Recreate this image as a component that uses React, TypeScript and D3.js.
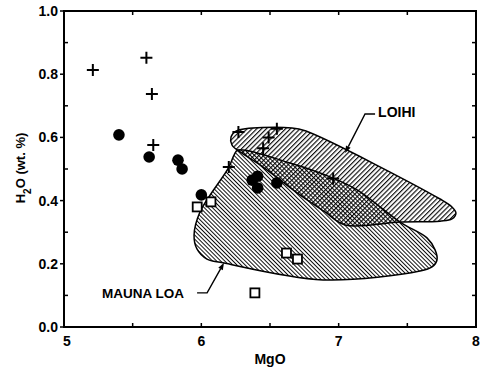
import React from "react";
import * as d3 from "d3";

// Sample compositions (MgO wt.%, H2O wt.%)
const crossX = [5.21, 5.6, 5.64, 5.65, 6.27, 6.49, 6.55, 6.45, 6.2, 6.96];
const crossY = [0.813, 0.852, 0.737, 0.576, 0.617, 0.6, 0.627, 0.566, 0.506, 0.47];

const dotX = [5.4, 5.62, 5.83, 5.86, 6.0, 6.37, 6.41, 6.41, 6.55];
const dotY = [0.608, 0.538, 0.528, 0.5, 0.418, 0.465, 0.477, 0.44, 0.456];

const squareX = [5.97, 6.07, 6.62, 6.7, 6.39];
const squareY = [0.38, 0.396, 0.234, 0.215, 0.108];

// Field outlines
const loihiX = [6.252, 6.66, 6.762, 7.738, 7.825, 7.854, 7.825, 7.738, 7.447, 7.046, 6.901, 6.718, 6.427, 6.282, 6.223, 6.216];
const loihiY = [0.62, 0.63, 0.62, 0.405, 0.38, 0.361, 0.342, 0.335, 0.332, 0.323, 0.364, 0.418, 0.513, 0.554, 0.576, 0.601];

const maunaX = [6.267, 6.646, 6.937, 7.134, 7.447, 7.643, 7.702, 7.716, 7.68, 7.592, 6.886, 6.158, 6.041, 5.968, 5.947, 5.99, 6.201, 6.238];
const maunaY = [0.56, 0.519, 0.475, 0.434, 0.332, 0.282, 0.244, 0.212, 0.19, 0.177, 0.149, 0.203, 0.215, 0.247, 0.291, 0.364, 0.506, 0.544];

const xTicks = [5, 6, 7, 8];
const xMinor = [5.5, 6, 6.5, 7, 7.5];
const yTicks = [0, 0.2, 0.4, 0.6, 0.8, 1.0];
const yMinor = [0.1, 0.3, 0.5, 0.7, 0.9];
const yAll = [0.1, 0.2, 0.3, 0.4, 0.5, 0.6, 0.7, 0.8, 0.9];

const W = 482;
const H = 368;
const FONT = "'Liberation Sans', Arial, Helvetica, sans-serif";

const x = d3.scaleLinear().domain([5, 8]).range([64, 476]);
const y = d3.scaleLinear().domain([0, 1]).range([327, 11]);

const outline = d3
  .line<[number, number]>()
  .x((d) => x(d[0]))
  .y((d) => y(d[1]))
  .curve(d3.curveCatmullRomClosed.alpha(0.5));

const loihiPts = loihiX.map((v, i) => [v, loihiY[i]] as [number, number]);
const maunaPts = maunaX.map((v, i) => [v, maunaY[i]] as [number, number]);

function Arrow({ pts }: { pts: [number, number][] }) {
  const p = pts.map(([a, b]) => [x(a), y(b)]);
  const [x1, y1] = p[p.length - 2];
  const [x2, y2] = p[p.length - 1];
  const ang = Math.atan2(y2 - y1, x2 - x1);
  const L = 7;
  const Wd = 2.6;
  const bx = x2 - L * Math.cos(ang);
  const by = y2 - L * Math.sin(ang);
  const head = [
    [x2, y2],
    [bx + Wd * Math.sin(ang), by - Wd * Math.cos(ang)],
    [bx - Wd * Math.sin(ang), by + Wd * Math.cos(ang)],
  ];
  return (
    <g>
      <polyline
        points={p.slice(0, -1).concat([[bx, by]]).map((q) => q.join(",")).join(" ")}
        fill="none"
        stroke="#000"
        strokeWidth={1.4}
      />
      <polygon points={head.map((q) => q.join(",")).join(" ")} fill="#000" />
    </g>
  );
}

export default function App() {
  const x0 = x(5);
  const x1 = x(8);
  const y0 = y(0);
  const y1 = y(1);
  return (
    <svg
      width={W}
      height={H}
      style={{ position: "absolute", left: 0, top: 0, background: "#fff" }}
      fontFamily={FONT}
    >
      <defs>
        <pattern id="hatchML" patternUnits="userSpaceOnUse" width={2.9} height={10} patternTransform="rotate(-45)">
          <line x1={0.5} y1={0} x2={0.5} y2={10} stroke="#000" strokeWidth={0.95} />
        </pattern>
        <pattern id="hatchLo" patternUnits="userSpaceOnUse" width={3.4} height={10} patternTransform="rotate(45)">
          <line x1={0.6} y1={0} x2={0.6} y2={10} stroke="#000" strokeWidth={1.1} />
        </pattern>
      </defs>

      {/* Fields */}
      <path d={outline(maunaPts) ?? ""} fill="url(#hatchML)" stroke="#000" strokeWidth={1.5} />
      <path d={outline(loihiPts) ?? ""} fill="url(#hatchLo)" stroke="#000" strokeWidth={1.5} />

      {/* Frame */}
      <rect x={x0} y={y1} width={x1 - x0} height={y0 - y1} fill="none" stroke="#000" strokeWidth={2} />

      {/* Ticks */}
      {xMinor.map((t) => (
        <g key={"xt" + t}>
          <line x1={x(t)} x2={x(t)} y1={y0} y2={y0 - 4} stroke="#000" strokeWidth={1.5} />
          <line x1={x(t)} x2={x(t)} y1={y1} y2={y1 + 4} stroke="#000" strokeWidth={1.5} />
        </g>
      ))}
      {yTicks.map((t) => (
        <line key={"yt" + t} x1={x0} x2={x0 - 4} y1={y(t)} y2={y(t)} stroke="#000" strokeWidth={1.5} />
      ))}
      {yMinor.map((t) => (
        <line key={"ym" + t} x1={x0} x2={x0 + 4} y1={y(t)} y2={y(t)} stroke="#000" strokeWidth={1.5} />
      ))}
      {yAll.map((t) => (
        <line key={"yr" + t} x1={x1} x2={x1 - 4} y1={y(t)} y2={y(t)} stroke="#000" strokeWidth={1.5} />
      ))}

      {/* Tick labels */}
      {yTicks.map((t) => (
        <text key={"yl" + t} x={58} y={y(t) + 5} textAnchor="end" fontSize={14} fontWeight="bold">
          {t.toFixed(1)}
        </text>
      ))}
      {xTicks.map((t) => (
        <text key={"xl" + t} x={x(t) + (t === 5 ? 3 : 0)} y={346} textAnchor="middle" fontSize={14} fontWeight="bold">
          {t}
        </text>
      ))}

      {/* Axis titles */}
      <text x={x(6.5)} y={364} textAnchor="middle" fontSize={14} fontWeight="bold">
        MgO
      </text>
      <text transform="translate(25,168) rotate(-90)" textAnchor="middle" fontSize={13} fontWeight="bold">
        H
        <tspan baselineShift="sub" fontSize={10}>2</tspan>
        O (wt. %)
      </text>

      {/* Samples */}
      {crossX.map((v, i) => (
        <path
          key={"c" + i}
          d={`M${x(v) - 6},${y(crossY[i])}h12M${x(v)},${y(crossY[i]) - 6}v12`}
          stroke="#000"
          strokeWidth={2}
        />
      ))}
      {dotX.map((v, i) => (
        <circle key={"d" + i} cx={x(v)} cy={y(dotY[i])} r={5.8} fill="#000" />
      ))}
      {squareX.map((v, i) => (
        <rect
          key={"s" + i}
          x={x(v) - 4.5}
          y={y(squareY[i]) - 4.5}
          width={9}
          height={9}
          fill="#fff"
          stroke="#000"
          strokeWidth={1.8}
        />
      ))}

      {/* Field labels */}
      <text x={x(7.287)} y={y(0.68) + 5} fontSize={14} fontWeight="bold">
        LOIHI
      </text>
      <Arrow pts={[[7.265, 0.674], [7.192, 0.674], [7.047, 0.551]]} />
      <text x={x(5.277)} y={y(0.108) + 5} fontSize={13.5} fontWeight="bold">
        MAUNA LOA
      </text>
      <Arrow pts={[[5.969, 0.108], [6.042, 0.108], [6.165, 0.203]]} />
    </svg>
  );
}
